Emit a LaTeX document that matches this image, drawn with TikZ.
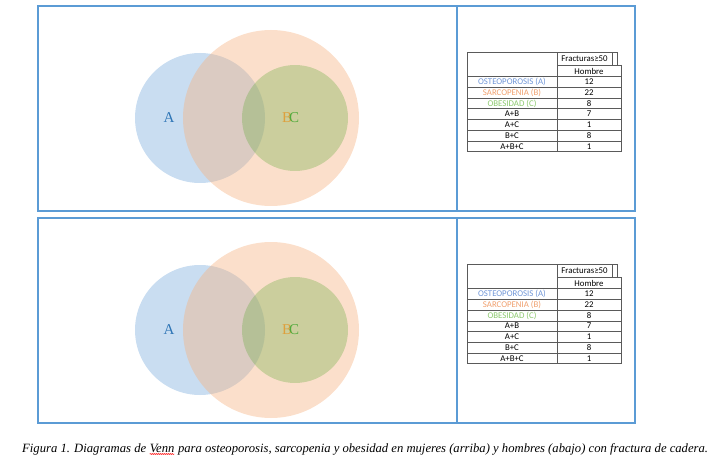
\documentclass[tikz,border=0pt]{standalone}
\usepackage{fontspec}
\setmainfont{Liberation Serif}
\newfontfamily\tabfont{Carlito}
\usetikzlibrary{positioning, calc, decorations.pathmorphing}

\definecolor{framecol}{RGB}{91,155,213}
\definecolor{setA}{RGB}{120,170,220}
\definecolor{setB}{RGB}{246,176,125}
\definecolor{setC}{RGB}{112,173,71}
\definecolor{labA}{RGB}{46,117,182}
\definecolor{labB}{RGB}{222,160,60}
\definecolor{labC}{RGB}{80,170,60}
\definecolor{osteo}{RGB}{112,150,215}
\definecolor{sarco}{RGB}{240,160,110}
\definecolor{obes}{RGB}{140,200,110}
\definecolor{tabgray}{RGB}{90,90,90}

\begin{document}
\begin{tikzpicture}[x=1pt, y=-1pt, every node/.style={inner sep=0pt},
    frame/.style={draw=framecol, line width=1.3pt},
    tabline/.style={draw=tabgray, line width=0.6pt},
    tabtext/.style={font=\tabfont\fontsize{8.8}{9}\selectfont},
    setlab/.style={font=\fontsize{15}{15}\selectfont},
    captext/.style={anchor=base west, font=\itshape\fontsize{12.65}{14}\selectfont}]

    \useasboundingbox (0,0) rectangle (720,465);

    % Parameters
    \def\rh{10.7} % row height of the table
    \def\ry{76.7} % top of the first data row

    % Two identical panels
    \foreach \p/\dy in {1/0, 2/212} {
    \begin{scope}[shift={(0,\dy)}]

        % Frames
        \draw[frame] (38,6) rectangle (457,211);
        \draw[frame] (457,6) rectangle (635,211);

        % Venn circles
        \node[circle, minimum size=130pt, fill=setA, fill opacity=0.4] (circA\p) at (200,118) {};
        \node[circle, minimum size=176pt, fill=setB, fill opacity=0.4] (circB\p) at (271,118) {};
        \node[circle, minimum size=106pt, fill=setC, fill opacity=0.35] (circC\p) at (295,118) {};

        \node[setlab, text=labA] (A\p) at (169,118) {A};
        \node[setlab, text=labB] (B\p) at (287,118) {B};
        \node[setlab, text=labC] (C\p) at (294,118) {C};

        % Table header
        \draw[tabline] (467,52.3) -- (617,52.3);
        \draw[tabline] (557,65) -- (621,65);
        \draw[tabline] (467,\ry) -- (621,\ry);
        \draw[tabline] (467,52.3) -- (467,151.6);
        \draw[tabline] (557,52.3) -- (557,151.6);
        \draw[tabline] (612,52.3) -- (612,65);
        \draw[tabline] (617,52.3) -- (617,65);
        \draw[tabline] (621,65) -- (621,151.6);
        \node[tabtext] (frac\p) at (584.5,58.8) {Fracturas≥50};
        \node[tabtext] (homb\p) at (589,71) {Hombre};

        % Table rows
        \foreach \txt/\num/\col [count=\i] in {OSTEOPOROSIS (A)/12/osteo, SARCOPENIA (B)/22/sarco,
            OBESIDAD (C)/8/obes, A+B/7/black, A+C/1/black, B+C/8/black, A+B+C/1/black} {
            \pgfmathsetmacro{\yc}{\ry+(\i-0.5)*\rh}
            \pgfmathsetmacro{\yl}{\ry+\i*\rh}
            \node[tabtext, text=\col] (lab\p\i) at (512,\yc) {\txt};
            \node[tabtext] (num\p\i) at (589,\yc) {\num};
            \draw[tabline] (467,\yl) -- (621,\yl);
        }
    \end{scope}
    }

    % Caption
    \node[captext] (cap1) at (22,452) {Figura 1. Diagramas de};
    \node[captext, xshift=3.2pt] (venn) at (cap1.base east) {Venn};
    \node[captext, xshift=3.2pt] (cap2) at (venn.base east) {para osteoporosis, sarcopenia y obesidad en mujeres (arriba) y hombres (abajo) con fractura de cadera.};
    \draw[red, decorate, decoration={snake, amplitude=0.5pt, segment length=2pt}]
        ($(venn.base west)+(0,2)$) -- ($(venn.base east)+(0,2)$);

\end{tikzpicture}
\end{document}
